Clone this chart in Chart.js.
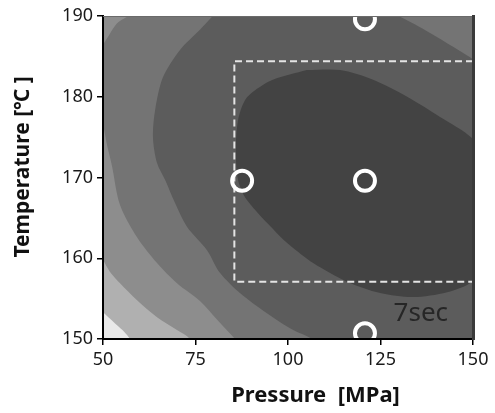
<!DOCTYPE html>
<html><head><meta charset="utf-8">
<script src="https://cdn.jsdelivr.net/npm/chart.js@4.4.0/dist/chart.umd.min.js"></script>
<style>html,body{margin:0;padding:0;background:#fff;}#wrap{width:495px;height:413px;}</style>
</head><body><div id="wrap"><canvas id="c" width="495" height="413"></canvas></div>
<script>
// axis ticks
const xTicks = [50, 75, 100, 125, 150];
const yTicks = [150, 160, 170, 180, 190];

// contour boundaries (pressure MPa, temperature °C), outer to inner
const contour1P = [50.0, 51.9, 53.8, 55.7, 57.3, 60.0, 130.3, 211.4, 227.6, 184.3, 103.2, 35.7, 16.8, 27.6, 41.1, 50.0];
const contour1T = [153.3, 152.5, 151.7, 150.9, 150.0, 147.4, 127.6, 136.3, 173.4, 206.8, 211.8, 204.4, 179.6, 161.0, 155.4, 153.3];

const contour2P = [50.0, 51.9, 54.6, 59.2, 64.6, 70.0, 73.5, 81.6, 130.3, 184.3, 197.8, 170.8, 103.2, 49.2, 33.0, 35.7, 43.8, 50.0];
const contour2T = [159.8, 158.3, 156.9, 154.8, 152.7, 151.1, 150.0, 144.9, 135.0, 142.4, 173.4, 199.4, 204.4, 199.4, 185.8, 169.7, 162.9, 159.8];

const contour3P = [56.5, 53.8, 51.6, 50.0, 47.8, 47.3, 48.4, 50.0, 51.1, 52.4, 54.6, 59.2, 64.6, 70.0, 76.2, 80.8, 85.7, 92.4, 116.8, 151.9, 169.5, 172.2, 160.0, 130.3, 89.7, 65.4, 56.5];
const contour3T = [189.9, 189.1, 187.6, 186.4, 183.9, 180.8, 178.4, 176.5, 174.0, 171.5, 166.6, 162.6, 159.4, 156.9, 154.7, 152.4, 150.0, 146.8, 142.4, 141.2, 154.8, 173.4, 189.5, 197.6, 196.9, 193.8, 189.9];

const contour4P = [79.5, 87.0, 103.2, 119.5, 130.3, 138.4, 144.6, 149.2, 155.9, 162.7, 165.4, 161.4, 151.9, 130.3, 114.1, 106.5, 101.4, 94.3, 87.0, 81.6, 78.1, 72.7, 69.5, 66.8, 64.6, 63.5, 64.1, 66.2, 70.8, 76.2, 79.5];
const contour4T = [189.9, 191.4, 193.0, 192.0, 189.9, 187.9, 186.2, 184.9, 182.7, 175.9, 164.7, 154.8, 147.4, 145.5, 147.4, 150.0, 151.1, 153.2, 155.7, 158.2, 161.0, 163.9, 166.8, 169.7, 171.8, 175.0, 178.4, 182.4, 185.8, 188.3, 189.9];

const contour5P = [105.1, 114.1, 123.0, 132.2, 141.1, 149.7, 153.2, 154.6, 153.2, 149.7, 143.0, 133.8, 124.9, 115.9, 106.8, 100.5, 97.0, 88.9, 86.5, 85.9, 86.5, 88.4, 91.1, 95.9, 105.1];
const contour5T = [183.3, 183.3, 182.1, 180.0, 177.5, 174.9, 172.2, 166.0, 159.8, 157.1, 155.8, 155.2, 155.7, 157.1, 159.4, 161.6, 163.1, 167.2, 169.7, 173.4, 177.1, 179.6, 180.8, 182.1, 183.3];

// experiment points
const designP = [120.8, 87.6, 120.8, 120.8];
const designT = [189.6, 169.6, 169.6, 150.7];

// dashed window
const windowP = [150, 85.5, 85.5, 150];
const windowT = [184.4, 184.4, 157.1, 157.1];

// label
const noteText = '7sec';
const noteP = 135.9;
const noteT = 153.1;

const F = "'Noto Sans', 'Noto Sans CJK KR', sans-serif";
const toXY = (P, T) => P.map((p, i) => ({x: p, y: T[i]}));

function contourSet(P, T, color, order) {
  return {type: 'scatter', data: toXY(P, T), showLine: true, fill: 'shape',
    backgroundColor: color, borderColor: color, borderWidth: 0, pointRadius: 0,
    tension: 0.3, order: order, xAxisID: 'x', yAxisID: 'y'};
}

const bgPlugin = {id: 'bg', beforeDatasetsDraw(chart) {
  const {ctx, chartArea: a} = chart;
  ctx.save(); ctx.fillStyle = '#e9e9e9';
  ctx.fillRect(a.left, a.top, a.right - a.left, a.bottom - a.top); ctx.restore();
}};
const notePlugin = {id: 'note', afterDatasetsDraw(chart) {
  const {ctx} = chart;
  const x = chart.scales.x.getPixelForValue(noteP), y = chart.scales.y.getPixelForValue(noteT);
  ctx.save(); ctx.font = "26px " + F; ctx.fillStyle = '#262626';
  ctx.textAlign = 'center'; ctx.textBaseline = 'middle'; ctx.fillText(noteText, x, y); ctx.restore();
}};

new Chart(document.getElementById('c'), {
  data: {datasets: [
    contourSet(contour1P, contour1T, '#b0b0b0', 10),
    contourSet(contour2P, contour2T, '#8d8d8d', 9),
    contourSet(contour3P, contour3T, '#747474', 8),
    contourSet(contour4P, contour4T, '#5c5c5c', 7),
    contourSet(contour5P, contour5T, '#434343', 6),
    {type: 'scatter', data: toXY(windowP, windowT), showLine: true, fill: false, borderColor: '#e4e4e4',
     borderWidth: 2, borderDash: [7, 4], pointRadius: 0, tension: 0, order: 2, xAxisID: 'x', yAxisID: 'y'},
    {type: 'scatter', data: toXY(designP, designT), pointRadius: 10, pointBorderWidth: 4,
     pointBorderColor: '#ffffff', pointBackgroundColor: 'rgba(0,0,0,0)', clip: 0, order: 1, xAxisID: 'x', yAxisID: 'y'}
  ]},
  options: {
    responsive: false, animation: false, events: [],
    layout: {padding: 0},
    plugins: {legend: {display: false}, tooltip: {enabled: false}},
    scales: {
      x: {type: 'linear', position: 'bottom', min: 50, max: 150,
        afterBuildTicks: s => { s.ticks = xTicks.map(v => ({value: v})); },
        ticks: {font: {size: 18, family: F}, color: '#1a1a1a', padding: 4, maxRotation: 0, autoSkip: false, z: 1},
        grid: {drawOnChartArea: false, drawTicks: true, tickLength: 6, color: '#000', lineWidth: 1.5, z: 1},
        border: {display: true, color: '#000', width: 2, z: 1},
        title: {display: true, text: '\u2003\u2003\u2002Pressure  [MPa]', font: {size: 22, weight: 'bold', family: F}, color: '#111', padding: {top: 4, bottom: 4}},
        afterFit: s => { s.height = 74; }},
      y: {type: 'linear', position: 'left', min: 150, max: 190,
        afterBuildTicks: s => { s.ticks = yTicks.map(v => ({value: v})); },
        ticks: {font: {size: 18, family: F}, color: '#1a1a1a', padding: 4, autoSkip: false, z: 1},
        grid: {drawOnChartArea: false, drawTicks: true, tickLength: 6, color: '#000', lineWidth: 1.5, z: 1},
        border: {display: true, color: '#000', width: 2, z: 1},
        title: {display: true, text: '\u2003Temperature [℃ ]', font: {size: 21, weight: 'bold', family: F}, color: '#111', padding: {top: 10, bottom: 4}},
        afterFit: s => { s.width = 103; }},
      x2: {type: 'linear', position: 'top', min: 50, max: 150,
        ticks: {display: false}, grid: {display: false}, border: {display: true, color: '#6a6a6a', width: 1, z: 1},
        afterFit: s => { s.height = 16; }},
      y2: {type: 'linear', position: 'right', min: 150, max: 190,
        ticks: {display: false}, grid: {display: false}, border: {display: true, color: '#3a3a3a', width: 3, z: 1},
        afterFit: s => { s.width = 22; }}
    }
  },
  plugins: [bgPlugin, notePlugin]
});
</script></body></html>
